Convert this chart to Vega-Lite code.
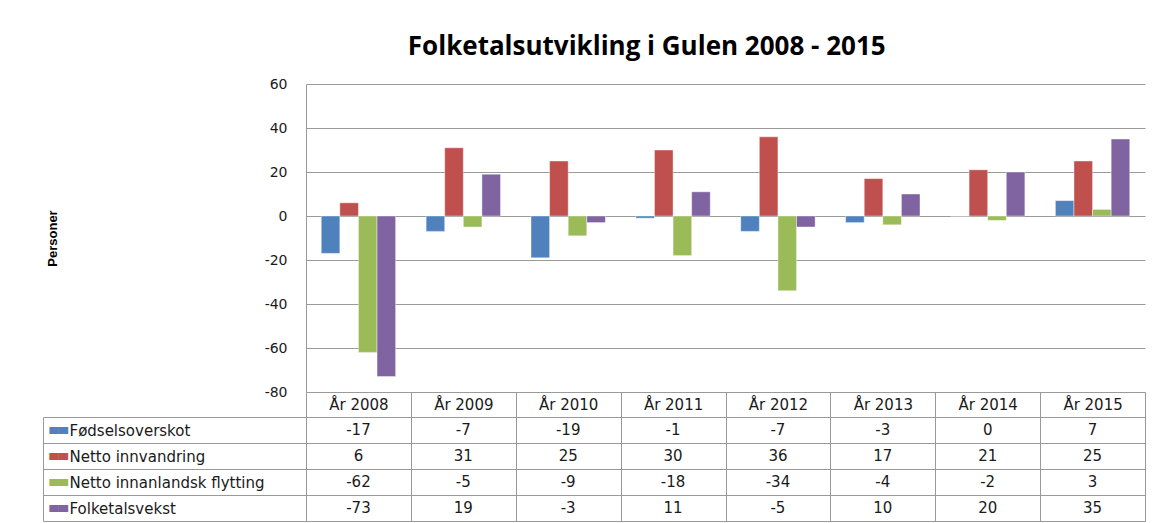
{
  "$schema": "https://vega.github.io/schema/vega-lite/v6.json",
  "padding": {"left": 42, "top": 34, "right": 10, "bottom": 0},
  "title": {"text": "Folketalsutvikling i Gulen 2008 - 2015", "font": "Open Sans", "fontSize": 26, "fontWeight": "bold", "color": "#000000", "anchor": "middle", "offset": 17, "dx": 53},
  "datasets": {
    "d": [
      {"year": "År 2008", "series": "Fødselsoverskot", "value": -17},
      {"year": "År 2009", "series": "Fødselsoverskot", "value": -7},
      {"year": "År 2010", "series": "Fødselsoverskot", "value": -19},
      {"year": "År 2011", "series": "Fødselsoverskot", "value": -1},
      {"year": "År 2012", "series": "Fødselsoverskot", "value": -7},
      {"year": "År 2013", "series": "Fødselsoverskot", "value": -3},
      {"year": "År 2014", "series": "Fødselsoverskot", "value": 0},
      {"year": "År 2015", "series": "Fødselsoverskot", "value": 7},
      {"year": "År 2008", "series": "Netto innvandring", "value": 6},
      {"year": "År 2009", "series": "Netto innvandring", "value": 31},
      {"year": "År 2010", "series": "Netto innvandring", "value": 25},
      {"year": "År 2011", "series": "Netto innvandring", "value": 30},
      {"year": "År 2012", "series": "Netto innvandring", "value": 36},
      {"year": "År 2013", "series": "Netto innvandring", "value": 17},
      {"year": "År 2014", "series": "Netto innvandring", "value": 21},
      {"year": "År 2015", "series": "Netto innvandring", "value": 25},
      {"year": "År 2008", "series": "Netto innanlandsk flytting", "value": -62},
      {"year": "År 2009", "series": "Netto innanlandsk flytting", "value": -5},
      {"year": "År 2010", "series": "Netto innanlandsk flytting", "value": -9},
      {"year": "År 2011", "series": "Netto innanlandsk flytting", "value": -18},
      {"year": "År 2012", "series": "Netto innanlandsk flytting", "value": -34},
      {"year": "År 2013", "series": "Netto innanlandsk flytting", "value": -4},
      {"year": "År 2014", "series": "Netto innanlandsk flytting", "value": -2},
      {"year": "År 2015", "series": "Netto innanlandsk flytting", "value": 3},
      {"year": "År 2008", "series": "Folketalsvekst", "value": -73},
      {"year": "År 2009", "series": "Folketalsvekst", "value": 19},
      {"year": "År 2010", "series": "Folketalsvekst", "value": -3},
      {"year": "År 2011", "series": "Folketalsvekst", "value": 11},
      {"year": "År 2012", "series": "Folketalsvekst", "value": -5},
      {"year": "År 2013", "series": "Folketalsvekst", "value": 10},
      {"year": "År 2014", "series": "Folketalsvekst", "value": 20},
      {"year": "År 2015", "series": "Folketalsvekst", "value": 35}
    ]
  },
  "bounds": "flush",
  "spacing": 25,
  "vconcat": [
    {
      "width": 839,
      "height": 308,
      "data": {"name": "d"},
      "view": {"stroke": null},
      "mark": {"type": "bar", "stroke": "#ffffff", "strokeWidth": 0.6, "strokeOpacity": 0.7},
      "encoding": {
        "x": {
          "field": "year", "type": "nominal",
          "scale": {"paddingInner": 0, "paddingOuter": 0},
          "axis": {"title": null, "labelAngle": 0, "tickBand": "extent", "tickSize": 25, "tickColor": "#9a9a9a", "domainColor": "#9a9a9a", "labelPadding": -12.5, "labelBaseline": "middle", "labelFontSize": 15, "grid": false}
        },
        "xOffset": {
          "field": "series", "type": "nominal",
          "sort": ["Fødselsoverskot", "Netto innvandring", "Netto innanlandsk flytting", "Folketalsvekst"],
          "scale": {"paddingInner": 0, "paddingOuter": 0.82}
        },
        "y": {
          "field": "value", "type": "quantitative",
          "scale": {"domain": [-80, 60], "nice": false},
          "axis": {"title": "Personer", "values": [-80, -60, -40, -20, 0, 20, 40, 60], "ticks": false, "labelPadding": 19, "labelExpr": "'' + datum.value", "grid": true, "gridColor": "#9a9a9a", "domainColor": "#9a9a9a", "titleFont": "Liberation Sans", "titleFontSize": 13, "titleFontWeight": "bold", "titleColor": "#000000", "titlePadding": 205}
        },
        "color": {
          "field": "series", "type": "nominal",
          "scale": {"domain": ["Fødselsoverskot", "Netto innvandring", "Netto innanlandsk flytting", "Folketalsvekst"], "range": ["#4F81BD", "#C0504D", "#9BBB59", "#8064A2"]},
          "legend": null
        }
      }
    },
    {
      "width": 839,
      "height": 104,
      "data": {"name": "d"},
      "view": {"stroke": "#9a9a9a"},
      "layer": [
        {
          "mark": {"type": "text", "font": "DejaVu Sans", "fontSize": 15, "color": "#1a1a1a"},
          "encoding": {
            "x": {
              "field": "year", "type": "nominal",
              "axis": {"title": null, "labels": false, "ticks": false, "domain": false, "grid": true, "tickBand": "extent", "gridColor": "#9a9a9a"}
            },
            "y": {
              "field": "series", "type": "nominal",
              "sort": ["Fødselsoverskot", "Netto innvandring", "Netto innanlandsk flytting", "Folketalsvekst"],
              "axis": {"title": null, "orient": "left", "labelAlign": "left", "labelBaseline": "middle", "labelPadding": -26, "labelFontSize": 15, "tickBand": "extent", "tickSize": 263, "tickColor": "#9a9a9a", "domainColor": "#9a9a9a", "grid": true, "gridColor": "#9a9a9a", "labelLimit": 0}
            },
            "text": {"field": "value", "type": "nominal"}
          }
        },
        {
          "mark": {"type": "text", "opacity": 0},
          "encoding": {
            "y": {
              "field": "series", "type": "nominal",
              "sort": ["Fødselsoverskot", "Netto innvandring", "Netto innanlandsk flytting", "Folketalsvekst"],
              "axis": {"title": null, "orient": "left", "offset": 263, "ticks": false, "grid": false, "domainColor": "#9a9a9a", "labelAlign": "left", "labelBaseline": "alphabetic", "labelOffset": 1, "labelPadding": -6, "labelExpr": "'▄▄'", "labelFont": "DejaVu Sans", "labelFontSize": 12, "labelColor": {"expr": "datum.value === 'Fødselsoverskot' ? '#4F81BD' : datum.value === 'Netto innvandring' ? '#C0504D' : datum.value === 'Netto innanlandsk flytting' ? '#9BBB59' : '#8064A2'"}}
            },
            "text": {"value": "x"}
          }
        }
      ],
      "resolve": {"axis": {"y": "independent"}}
    }
  ],
  "config": {
    "axis": {"labelFont": "DejaVu Sans", "labelFontSize": 14, "labelColor": "#1a1a1a"},
    "text": {"font": "DejaVu Sans"}
  }
}
